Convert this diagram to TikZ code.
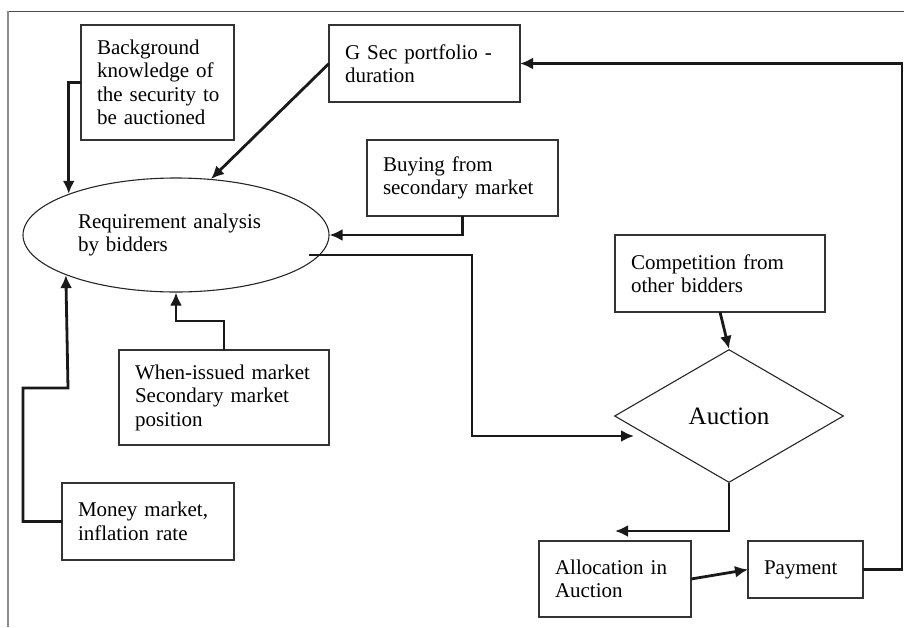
\documentclass[tikz,border=0pt]{standalone}
\usepackage{fontspec}
\setmainfont{Liberation Serif}
\usetikzlibrary{shapes.geometric,arrows.meta,calc}
\begin{document}
\begin{tikzpicture}[x=1pt,y=-1pt,
  font=\fontsize{21}{23.5}\selectfont,
  box/.style={draw=black!80, line width=1.2pt, inner xsep=16pt, inner ysep=0pt,
    align=left, anchor=north west, outer sep=0pt},
  conn/.style={draw=black!90, line width=2.8pt,
    -{Latex[length=13pt,width=12pt]}}]
\useasboundingbox (0,0) rectangle (904,627);
% frame
\draw[black!70, line width=1pt] (8,11) -- (904,11);
\draw[black!45, line width=1.2pt] (8,11) -- (8,627);

% boxes
\node[box, text width=121pt, minimum height=115pt] (bg) at (81,25)
  {Background\\knowledge of\\\mbox{the security to}\\be auctioned};
\node[box, text width=159pt, minimum height=77pt] (gsec) at (329,25)
  {G Sec portfolio -\\duration};
\node[box, text width=159pt, minimum height=76pt] (buy) at (367,140)
  {Buying from\\secondary market};
\node[box, text width=178pt, minimum height=77pt] (comp) at (615,235)
  {Competition from\\other bidders};
\node[box, text width=178pt, minimum height=95pt] (wi) at (119,350)
  {\mbox{When-issued market}\\Secondary market\\position};
\node[box, text width=140pt, minimum height=77pt] (money) at (62,483)
  {Money market,\\inflation rate};
\node[box, text width=120pt, minimum height=76pt] (alloc) at (539,541)
  {Allocation in\\Auction};
\node[box, text width=83pt, minimum height=57pt] (pay) at (748,541)
  {Payment};

% ellipse and diamond
\node[ellipse, draw=black!85, line width=1.1pt, minimum width=306pt, minimum height=114pt,
  text width=196pt, align=left, inner sep=0pt] (req) at (176,235)
  {Requirement analysis\\by bidders};
\node[diamond, draw=black!85, line width=1.1pt, minimum width=229pt, minimum height=133pt,
  inner sep=0pt, font=\fontsize{25}{28}\selectfont] (auc) at (729,416) {Auction};

% free ends / bends
\coordinate (rqout) at (309,255);
\coordinate (aucin) at (634,436);
\coordinate (allocin) at (615,531);
\coordinate (mbend) at (68,388);

% connectors
\draw[conn] (bg.west) -| (req.159.5);
\draw[conn] (gsec.west) -- (req.58);
\draw[conn] (buy.south) |- (req.east);
\draw[conn] (rqout) -- ++(163,0) |- (aucin);
\draw[conn] (comp.south) -- (auc.north);
\draw[conn] (auc.south) |- (allocin);
\draw[conn] (alloc.east) -- (pay.west);
\draw[conn] (pay.east) -- ++(39,0) |- (gsec.east);
\draw[conn] (money.west) -- ++(-39,0) |- (mbend) -- (req.200.5);
\draw[conn] (wi.north) -- ++(0,-29) -| (req.south);
\end{tikzpicture}
\end{document}
